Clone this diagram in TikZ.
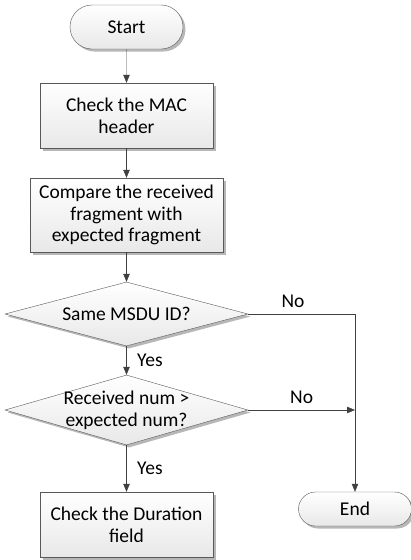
\documentclass[tikz,border=0pt]{standalone}
\usepackage{fontspec}
\setmainfont{Carlito}
\usetikzlibrary{positioning, arrows.meta, shapes.geometric, shapes.misc, shadows}

\begin{document}
\begin{tikzpicture}[x=1pt,y=-1pt,
    boxlook/.style={draw=black!65, top color=white, bottom color=black!9,
        drop shadow={shadow xshift=2.5pt, shadow yshift=-2.5pt, fill=black!40, opacity=0.7}},
    terminal/.style={boxlook, rounded rectangle, minimum width=113pt, inner sep=0pt},
    process/.style={boxlook, rectangle, align=center, inner sep=0pt},
    decision/.style={boxlook, diamond, minimum width=243pt, inner sep=0pt},
    flow/.style={draw=black!75, -{Triangle[length=8pt,width=6.5pt]}}]
            \fontsize{19.5}{21.7}\selectfont
            \useasboundingbox (0,0) rectangle (411,560);
            \node[terminal, minimum height=44pt] (start) at (126.5,27) {Start};
            \node[process, minimum width=173pt, minimum height=65pt] (mac) at (126.5,115.5) {Check the MAC\\header};
            \node[process, minimum width=193pt, minimum height=74pt] (cmp) at (126.5,215) {Compare the received\\fragment with\\expected fragment};
            \node[decision, minimum height=64pt, label={center:Same MSDU ID?}] (msdu) at (126.5,314) {};
            \node[decision, minimum height=70pt, label={[align=center]center:Received num >\\expected num?}] (num) at (126.5,410) {};
            \node[process, minimum width=173pt, minimum height=65pt] (dur) at (126.5,524.5) {Check the Duration\\field};
            \node[terminal, minimum height=34pt] (end) at (355,509) {End};
            \draw[flow] (start) -- (mac);
            \draw[flow] (mac) -- (cmp);
            \draw[flow] (cmp) -- (msdu);
            \draw[flow] (msdu) -- node[right, xshift=4pt] {Yes} (num);
            \draw[flow] (num) -- node[right, xshift=4pt] {Yes} (dur);
            \draw[flow] (msdu.east) -| node[pos=0.21, above] {No} (end.north);
            \draw[flow] (num.east) -- node[above] {No} (num.east -| end.north);
        \end{tikzpicture}
\end{document}
